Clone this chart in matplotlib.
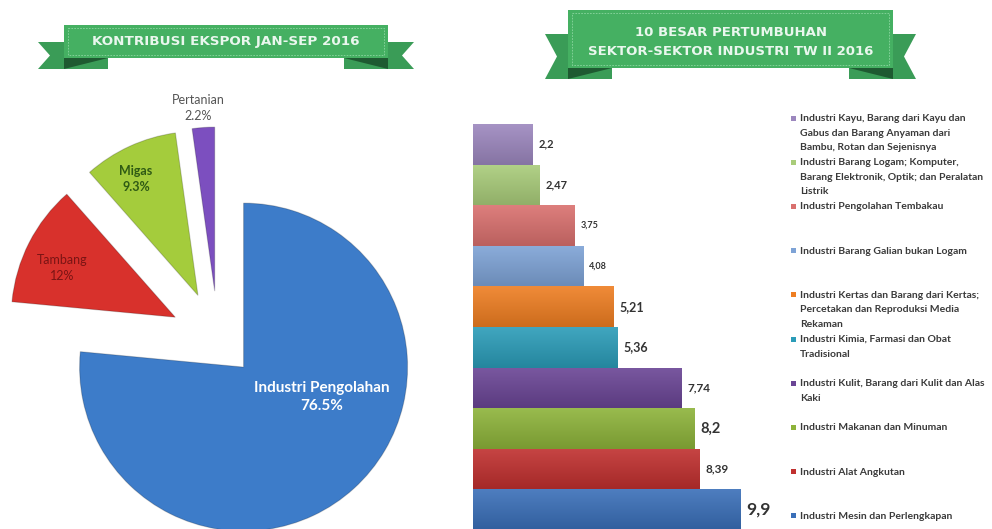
import matplotlib
matplotlib.use('Agg')
import matplotlib.pyplot as plt
from matplotlib.patches import Polygon, Rectangle
from matplotlib.colors import to_rgb
import numpy as np

# ---------------- data ----------------
pie_labels = ['Industri Pengolahan', 'Tambang', 'Migas', 'Pertanian']
pie_values = [76.5, 12.0, 9.3, 2.2]
pie_pct_labels = ['76.5%', '12%', '9.3%', '2.2%']

# bottom -> top
bar_categories = [
    'Industri Mesin dan Perlengkapan',
    'Industri Alat Angkutan',
    'Industri Makanan dan Minuman',
    'Industri Kulit, Barang dari Kulit dan Alas\nKaki',
    'Industri Kimia, Farmasi dan Obat\nTradisional',
    'Industri Kertas dan Barang dari Kertas;\nPercetakan dan Reproduksi Media\nRekaman',
    'Industri Barang Galian bukan Logam',
    'Industri Pengolahan Tembakau',
    'Industri Barang Logam; Komputer,\nBarang Elektronik, Optik; dan Peralatan\nListrik',
    'Industri Kayu, Barang dari Kayu dan\nGabus dan Barang Anyaman dari\nBambu, Rotan dan Sejenisnya',
]
bar_values = [9.9, 8.39, 8.2, 7.74, 5.36, 5.21, 4.08, 3.75, 2.47, 2.2]
bar_value_labels = ['9,9', '8,39', '8,2', '7,74', '5,36', '5,21', '4,08', '3,75', '2,47', '2,2']

title_left = 'KONTRIBUSI EKSPOR JAN-SEP 2016'
title_right = '10 BESAR PERTUMBUHAN\nSEKTOR-SEKTOR INDUSTRI TW II 2016'

# ---------------- styles ----------------
pie_colors = ['#3D7CC9', '#D8312C', '#A4CC3C', '#7C4FBF']
bar_colors = ['#3A6FB8', '#C0302F', '#8DB33A', '#6A4595', '#2B9CB8',
              '#EE7E22', '#7EA3D6', '#D9706E', '#A9CC7A', '#9C87BE']
value_fontsizes = [12.5, 8.5, 10.5, 8.5, 9, 9, 6.5, 6.5, 8, 8]

W, H = 992, 529
fig = plt.figure(figsize=(W / 100, H / 100), dpi=100)
fig.patch.set_facecolor('white')

# ---------------- pie ----------------
pax = fig.add_axes([0, 0, 1, 1])
pax.pie(pie_values, colors=pie_colors, startangle=90, counterclock=False,
        explode=[38, 48, 48, 48], radius=164, center=(218, H - 339),
        wedgeprops=dict(linewidth=0.8, edgecolor='#00000030'))
pax.set_xlim(0, W)
pax.set_ylim(0, H)
pax.axis('off')

# ---------------- bars ----------------
unit = 27.0
bx0, by0, by1 = 473, 124, 530
bx1 = bx0 + unit * 11.5
bax = fig.add_axes([bx0 / W, 1 - by1 / H, (bx1 - bx0) / W, (by1 - by0) / H])
ypos = list(range(len(bar_values)))
bars = bax.barh(ypos, bar_values, height=1.0, color=bar_colors, linewidth=0)
# vertical gradient shading inside each bar (lighter top, darker bottom)
for patch, c in zip(bars.patches, bar_colors):
    rgb = np.array(to_rgb(c))
    top = rgb + (1 - rgb) * 0.10
    bot = rgb * 0.86
    t = np.linspace(0, 1, 32)[:, None]
    grad = (top[None, :] * (1 - t) + bot[None, :] * t)[:, None, :]
    x0p, y0p = patch.get_x(), patch.get_y()
    im = bax.imshow(grad, extent=(x0p, x0p + patch.get_width(), y0p, y0p + patch.get_height()),
                    aspect='auto', interpolation='bilinear', zorder=2, origin='upper')
    im.set_clip_path(patch)
for i, (v, lab) in enumerate(zip(bar_values, bar_value_labels)):
    bax.text(v + 0.22, i, lab, ha='left', va='center', fontsize=value_fontsizes[i],
             fontweight='bold', color='#333333', family='Lato', zorder=3)
bax.set_xlim(0, 11.5)
bax.set_ylim(-0.5, len(bar_values) - 0.5)
bax.axis('off')

# ---------------- overlay (image coords) ----------------
ov = fig.add_axes([0, 0, 1, 1])
ov.set_xlim(0, W)
ov.set_ylim(H, 0)
ov.axis('off')
ov.patch.set_visible(False)

main_c, tail_c, dark_c, line_c = '#45B062', '#3A9C57', '#1E5A31', '#8BD6A0'


def ribbon(x0, x1, y0, y1, ty0, ty1, tw, fw):
    notch = 12
    ym = (ty0 + ty1) / 2
    ov.add_patch(Polygon([(x0 - tw, ty0), (x0 + fw, ty0), (x0 + fw, ty1), (x0 - tw, ty1),
                          (x0 - tw + notch, ym)], closed=True, fc=tail_c, ec='none'))
    ov.add_patch(Polygon([(x1 + tw, ty0), (x1 - fw, ty0), (x1 - fw, ty1), (x1 + tw, ty1),
                          (x1 + tw - notch, ym)], closed=True, fc=tail_c, ec='none'))
    ov.add_patch(Polygon([(x0, y1), (x0 + fw, y1), (x0, ty1)], closed=True, fc=dark_c, ec='none'))
    ov.add_patch(Polygon([(x1, y1), (x1 - fw, y1), (x1, ty1)], closed=True, fc=dark_c, ec='none'))
    ov.add_patch(Rectangle((x0, y0), x1 - x0, y1 - y0, fc=main_c, ec='none'))
    ov.add_patch(Rectangle((x0 + 4, y0 + 3), x1 - x0 - 8, y1 - y0 - 6, fc='none', ec=line_c,
                           lw=0.6, ls=(0, (2, 1.5))))


ribbon(64, 388, 25, 58, 42, 69, 26, 44)
ov.text(226, 42, title_left, ha='center', va='center', color='#EAF7EE', fontsize=9.7,
        fontweight='bold', family='DejaVu Sans')

ribbon(568, 893, 10, 68, 34, 79, 23, 44)
ov.text(731, 42, title_right, ha='center', va='center', color='#EAF7EE', fontsize=9.5,
        fontweight='bold', family='DejaVu Sans', linespacing=1.55)

# pie labels
lab_font = 'Lato'
ov.text(322, 397, pie_labels[0] + '\n' + pie_pct_labels[0], ha='center', va='center',
        color='white', fontsize=11, fontweight='bold', family=lab_font, linespacing=1.3)
ov.text(62, 268, pie_labels[1] + '\n' + pie_pct_labels[1], ha='center', va='center',
        color='#7A1414', fontsize=9, family=lab_font, linespacing=1.35)
ov.text(136, 179, pie_labels[2] + '\n' + pie_pct_labels[2], ha='center', va='center',
        color='#2F5A14', fontsize=9, fontweight='bold', family=lab_font, linespacing=1.35)
ov.text(198, 108, pie_labels[3] + '\n' + pie_pct_labels[3], ha='center', va='center',
        color='#555555', fontsize=9, family=lab_font, linespacing=1.35)

# legend (top to bottom = bars top to bottom)
n = len(bar_categories)
for k in range(n):
    i = n - 1 - k
    y = 118 + k * 44.2
    ov.add_patch(Rectangle((791, y - 2.5), 5, 5, fc=bar_colors[i], ec='none'))
    ov.text(800, y - 4, bar_categories[i], ha='left', va='top', fontsize=7.5,
            fontweight='bold', color='#3a3a3a', family='Lato', linespacing=1.8)

fig.savefig('out.png', dpi=100, facecolor='white')
